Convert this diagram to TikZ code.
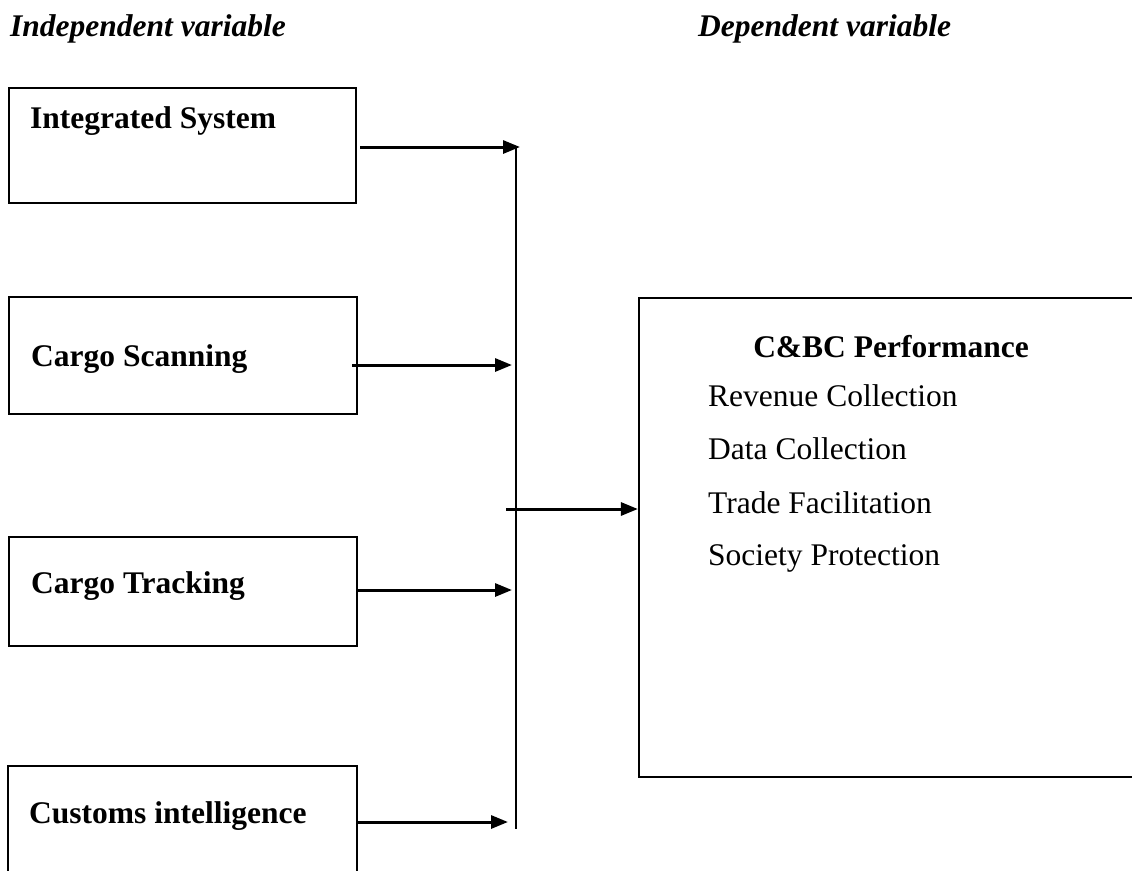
\documentclass[tikz,border=0pt]{standalone}
\usepackage{fontspec}
\setmainfont{Liberation Serif}
\usetikzlibrary{arrows.meta,positioning,calc}
\tikzset{
  vararr/.style={-{Triangle[length=17pt,width=13pt]}, line width=3pt},
  varbox/.style={draw, line width=2.2pt, inner sep=0pt},
  vartxt/.style={anchor=base west, inner sep=0pt},
}

\begin{document}
\begin{tikzpicture}[
  x=1pt, y=-1pt,
  font=\fontsize{31.5}{37}\selectfont,
]
  \useasboundingbox (0,0) rectangle (1132,870);

  % Headers
  \node[vartxt] (hind) at (10,36) {\textbf{\textit{Independent variable}}};
  \node[vartxt] (hdep) at (698,36) {\textbf{\textit{Dependent variable}}};

  % Left column
  \node[varbox, minimum width=347, minimum height=115] (b1) at (182.5,145.5) {};
  \node[varbox, minimum width=348, minimum height=117] (b2) at (183,355.5) {};
  \node[varbox, minimum width=348, minimum height=109] (b3) at (183,591.5) {};
  \node[varbox, minimum width=349, minimum height=134] (b4) at (182.5,833) {};

  \node[vartxt] (t1) at (30,128) {\textbf{Integrated System}};
  \node[vartxt] (t2) at (31,366) {\textbf{Cargo Scanning}};
  \node[vartxt] (t3) at (31,593) {\textbf{Cargo Tracking}};
  \node[vartxt] (t4) at (29,823) {\textbf{Customs intelligence}};

  % Right box (open to the right)
  \node[varbox, minimum width=501, minimum height=479] (perf) at (889.5,537.5) {};
  \node[anchor=base, inner sep=0pt] (ptitle) at (891,357) {\textbf{C\&BC Performance}};
  \node[vartxt] (p1) at (708,406) {Revenue Collection};
  \node[vartxt] (p2) at (708,459) {Data Collection};
  \node[vartxt] (p3) at (708,513) {Trade Facilitation};
  \node[vartxt] (p4) at (708,565) {Society Protection};

  % Bus line
  \coordinate (bustop) at (516,147);
  \coordinate (busbot) at (516,829);
  \coordinate (busout) at (506,509);
  \coordinate (in1) at (520,147);
  \coordinate (in2) at (512,365);
  \coordinate (in3) at (512,590);
  \coordinate (in4) at (508,822);
  \draw[line width=2.2pt] (bustop) -- (busbot);

  \draw[vararr] ([xshift=3pt]b1.east |- in1) -- (in1);
  \draw[vararr] ([xshift=-6pt]b2.east |- in2) -- (in2);
  \draw[vararr] (b3.east |- in3) -- (in3);
  \draw[vararr] (b4.east |- in4) -- (in4);
  \draw[vararr] (busout) -- (perf.west |- busout);

\end{tikzpicture}
\end{document}
